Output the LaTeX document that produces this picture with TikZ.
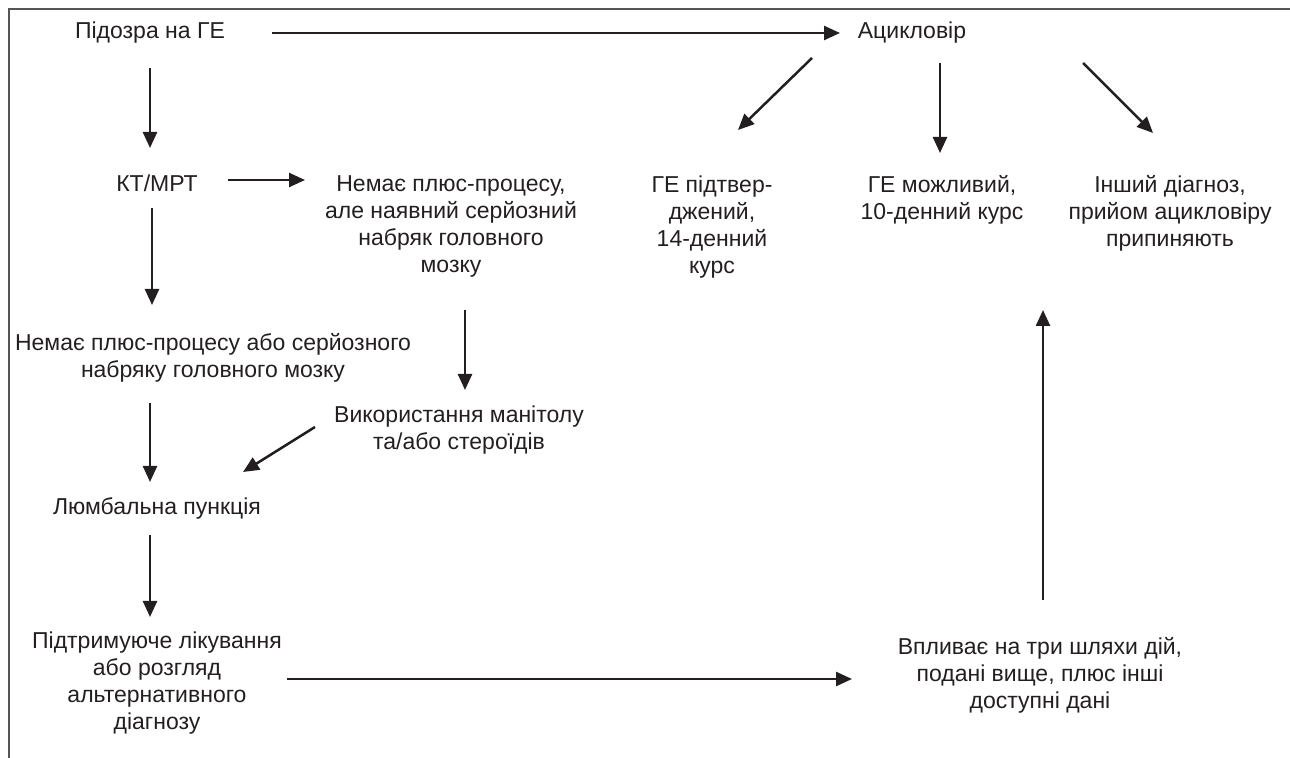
\documentclass[tikz,border=0pt]{standalone}
\usepackage{fontspec}
\setmainfont{Liberation Sans}
\usepackage{xcolor}
\usepackage{tikz}
\usetikzlibrary{arrows.meta, calc}
\definecolor{ink}{HTML}{231F20}
\definecolor{framegray}{HTML}{555555}

\begin{document}
\begin{tikzpicture}[
    x=0.5pt, y=-0.5pt,
    >={Triangle[length=8pt, width=7pt]},
    txt/.style={align=center, inner sep=0pt, text=ink, font=\fontsize{11.5}{13.5}\selectfont},
    flow/.style={->, line width=1.25pt, draw=ink},
]
    \useasboundingbox (0,0) rectangle (1290,758);

    % Frame, only top and left edges are visible
    \draw[framegray, line width=0.8pt] (1290,9) -- (9,9) -- (9,758);

    % Top row
    \node[txt] (susp) at (150,33) {Підозра на ГЕ};
    \node[txt] (acyc) at (912,33) {Ацикловір};

    % Imaging branch
    \node[txt] (ct) at (157,183) {КТ/МРТ};
    \node[txt] (mass) at (451,226) {Немає плюс-процесу,\\але наявний серйозний\\набряк головного\\мозку};
    \node[txt] (noedema) at (213,358) {Немає плюс-процесу або серйозного\\набряку головного мозку};
    \node[txt] (mannitol) at (459,430) {Використання манітолу\\та/або стероїдів};
    \node[txt] (lumbar) at (157,508) {Люмбальна пункція};
    \node[txt] (support) at (157,683) {Підтримуюче лікування\\або розгляд\\альтернативного\\діагнозу};

    % Outcomes of acyclovir
    \node[txt] (conf) at (712,227) {ГЕ підтвер-\\джений,\\14-денний\\курс};
    \node[txt] (poss) at (942,200) {ГЕ можливий,\\10-денний курс};
    \node[txt] (other) at (1170,213) {Інший діагноз,\\прийом ацикловіру\\припиняють};
    \node[txt] (impact) at (1040,675) {Впливає на три шляхи дій,\\подані вище, плюс інші\\доступні дані};

    % Arrows
    \draw[flow] ($(susp)+(122,0)$) -- ($(acyc)+(-72,0)$);
    \draw[flow] ($(susp)+(0,35)$) -- ($(ct)+(-7,-35)$);
    \draw[flow] ($(ct)+(71,-3)$) -- ($(mass)+(-146,-46)$);
    \draw[flow] ($(ct)+(-5,25)$) -- ($(noedema)+(-61,-53)$);
    \draw[flow] ($(acyc)+(-100,25)$) -- ($(conf)+(26,-97)$);
    \draw[flow] ($(acyc)+(28,30)$) -- ($(poss)+(-2,-47)$);
    \draw[flow] ($(acyc)+(171,30)$) -- ($(other)+(-17,-80)$);
    \draw[flow] ($(mass)+(14,84)$) -- ($(mannitol)+(6,-40)$);
    \draw[flow] ($(noedema)+(-63,45)$) -- ($(lumbar)+(-7,-26)$);
    \draw[flow] ($(mannitol)+(-144,-3)$) -- ($(lumbar)+(86,-36)$);
    \draw[flow] ($(lumbar)+(-7,27)$) -- ($(support)+(-7,-66)$);
    \draw[flow] ($(support)+(130,-4)$) -- ($(impact)+(-188,4)$);
    \draw[flow] ($(impact)+(3,-75)$) -- ($(poss)+(101,110)$);
\end{tikzpicture}
\end{document}
